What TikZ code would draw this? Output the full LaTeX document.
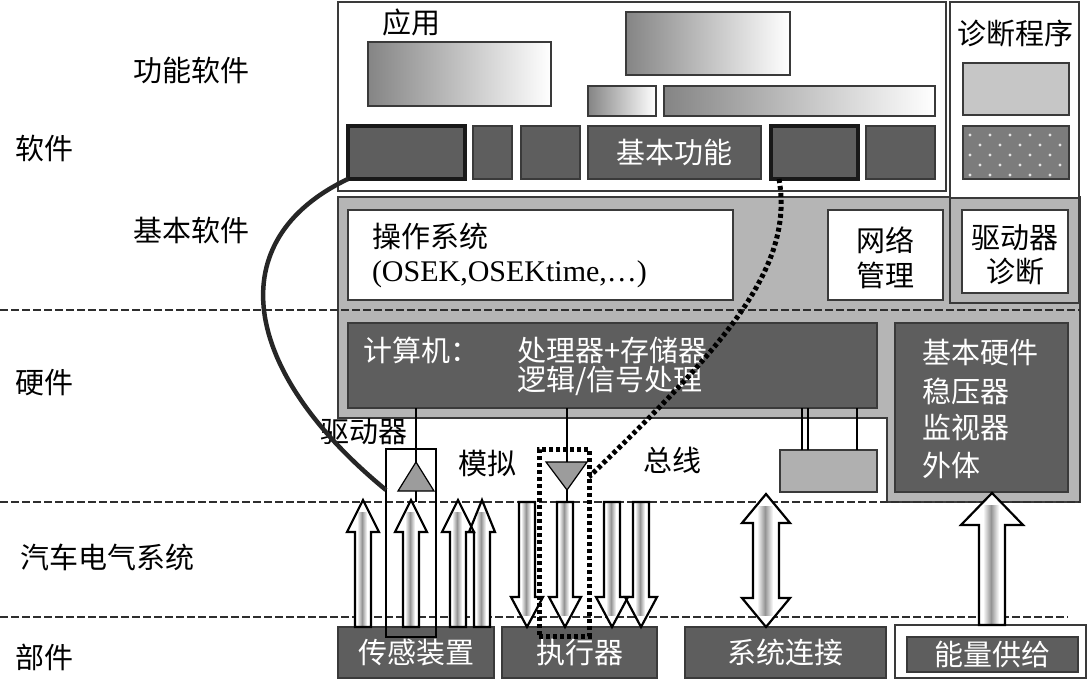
\documentclass[tikz,border=0pt]{standalone}
\usepackage{fontspec}
\setmainfont{Liberation Serif}
\newfontfamily\cjk{Noto Sans CJK SC}
\definecolor{dk}{HTML}{5E5E5E}
\definecolor{fg}{HTML}{B5B5B5}
\definecolor{bd}{HTML}{3A3A3A}
\definecolor{sbc}{HTML}{B0B0B0}
\definecolor{tri}{HTML}{9C9C9C}
\definecolor{kk}{HTML}{C6C6C6}
\definecolor{ll}{HTML}{7C7C7C}
\newcommand\UpArr[7]{\path[#7] ({#1-#4},#3) -- ({#1-#4},{#2+#6}) -- ({#1-#5},{#2+#6}) -- (#1,#2) -- ({#1+#5},{#2+#6}) -- ({#1+#4},{#2+#6}) -- ({#1+#4},#3) -- cycle;}
\newcommand\DnArr[7]{\path[#7] ({#1-#4},#2) -- ({#1-#4},{#3-#6}) -- ({#1-#5},{#3-#6}) -- (#1,#3) -- ({#1+#5},{#3-#6}) -- ({#1+#4},{#3-#6}) -- ({#1+#4},#2) -- cycle;}
\newcommand\DblArr[7]{\path[#7] (#1,#2) -- ({#1+#5},{#2+#6}) -- ({#1+#4},{#2+#6}) -- ({#1+#4},{#3-#6}) -- ({#1+#5},{#3-#6}) -- (#1,#3) -- ({#1-#5},{#3-#6}) -- ({#1-#4},{#3-#6}) -- ({#1-#4},{#2+#6}) -- ({#1-#5},{#2+#6}) -- cycle;}
\newcommand\Stripe[4]{\path[left color=white,right color=white,middle color=black!42] ({#1-#4},#2) rectangle ({#1+#4-2},#3);}
\newcommand\AllArrows[1]{%
\UpArr{363}{500}{627}{8}{16}{32}{#1}
\UpArr{411}{500}{627}{8}{16}{32}{#1}
\UpArr{458}{500}{627}{8}{16}{32}{#1}
\UpArr{482}{500}{627}{8}{13}{32}{#1}
\DnArr{527}{502}{627}{8}{16}{30}{#1}
\DnArr{565}{502}{627}{8}{16}{30}{#1}
\DnArr{612}{502}{627}{8}{16}{30}{#1}
\DnArr{641}{502}{627}{8}{16}{30}{#1}
\DblArr{766}{494}{627}{13}{24}{29}{#1}
\UpArr{992}{493}{625}{13}{31}{32}{#1}}
\newcommand\AllStripes{%
\Stripe{363}{512}{627}{6}
\Stripe{411}{512}{627}{6}
\Stripe{458}{512}{627}{6}
\Stripe{482}{512}{627}{6}
\Stripe{527}{502}{615}{6}
\Stripe{565}{502}{615}{6}
\Stripe{612}{502}{615}{6}
\Stripe{641}{502}{615}{6}
\Stripe{766}{506}{615}{9}
\Stripe{992}{505}{625}{9}}
\begin{document}
\begin{tikzpicture}[x=1pt,y=-1pt,
  every node/.style={inner sep=0pt,outer sep=0pt},
  lbl/.style={font=\cjk\fontsize{29}{34}\selectfont},
  wlbl/.style={lbl,text=white},
  bx/.style={draw=bd,line width=1.4pt,anchor=north west},
  dbox/.style={bx,fill=dk},
  wbox/.style={bx,fill=white},
  gbox/.style={bx,left color=black!48,right color=white},
  hbox/.style={dbox,draw=black!90,line width=3.2pt},
  dl/.style={draw=bd!80!black,line width=2.4pt,dash pattern=on 8pt off 3pt},
  dotl/.style={draw=black,line width=5pt,dash pattern=on 4pt off 3pt},
  arrline/.style={draw=black,line width=2.2pt,line join=miter},
  thin/.style={draw=black,line width=1.4pt}]
\useasboundingbox (0,0) rectangle (1089,680);

% grey L-shaped region (basic software + hardware)
\path[fill=fg,draw=bd,line width=1.4pt] (338,197) -- (1080,197) -- (1080,502) -- (887,502) -- (887,418) -- (338,418) -- cycle;

% function software
\node[wbox,minimum width=608pt,minimum height=189pt] (fs) at (338,2) {};
\node[wbox,minimum width=129pt,minimum height=196pt] (dg) at (950,2) {};
\node[bx,minimum width=129pt,minimum height=105pt] (dgl) at (950,198) {};
\node[lbl] (app) at (411,22) {应用};
\node[gbox,minimum width=183pt,minimum height=64pt] (ga) at (368,42) {};
\node[gbox,minimum width=164pt,minimum height=63pt] (gb) at (626,12) {};
\node[gbox,minimum width=68pt,minimum height=30pt] (gc) at (588,86) {};
\node[gbox,minimum width=271pt,minimum height=30pt] (gd) at (664,86) {};
\node[hbox,minimum width=117pt,minimum height=53pt] (E) at (348,126) {};
\node[dbox,minimum width=39pt,minimum height=53pt] (F) at (473,126) {};
\node[dbox,minimum width=59pt,minimum height=53pt] (G) at (521,126) {};
\node[dbox,minimum width=173pt,minimum height=53pt] (H) at (588,126) {};
\node[wlbl] (Ht) at (H.center) {基本功能};
\node[hbox,minimum width=87pt,minimum height=53pt] (I) at (771,126) {};
\node[dbox,minimum width=69pt,minimum height=53pt] (J) at (866,126) {};
\node[lbl] (dgt) at (1015,33) {诊断程序};
\node[bx,fill=kk,minimum width=106pt,minimum height=52pt] (K) at (963,63) {};
\node[bx,fill=ll,minimum width=106pt,minimum height=53pt] (L) at (963,126) {};
\foreach \j in {0,...,4} \foreach \i in {0,...,4} {
  \fill[white!80!ll] ({970+20*\i+10*mod(\j,2)},{135+10*\j}) circle (1.6pt);}

% basic software
\node[wbox,minimum width=385pt,minimum height=90pt] (os) at (348,210) {};
\node[lbl,anchor=west] (ost1) at (372,236) {操作系统};
\node[anchor=west,font=\fontsize{30}{34}\selectfont] (ost2) at (372,274) {(OSEK,OSEKtime,…)};
\node[wbox,minimum width=115pt,minimum height=90pt] (nm) at (828,210) {};
\node[lbl] (nm1) at (885,240) {网络};
\node[lbl] (nm2) at (885,275) {管理};
\node[wbox,minimum width=106pt,minimum height=83pt] (dd) at (962,210) {};
\node[lbl] (dd1) at (1015,238) {驱动器};
\node[lbl] (dd2) at (1015,272) {诊断};

% hardware
\node[dbox,minimum width=529pt,minimum height=85pt] (cp) at (348,323) {};
\node[wlbl,anchor=west] (cp1) at (363,350) {计算机：};
\node[wlbl,anchor=west] (cp2) at (517,350) {处理器+存储器};
\node[wlbl,anchor=west] (cp3) at (517,381) {逻辑/信号处理};
\node[dbox,minimum width=173pt,minimum height=169pt] (bh) at (895,323) {};
\node[wlbl,anchor=west] (bh1) at (922,353) {基本硬件};
\node[wlbl,anchor=west] (bh2) at (922,391) {稳压器};
\node[wlbl,anchor=west] (bh3) at (922,428) {监视器};
\node[wlbl,anchor=west] (bh4) at (922,465) {外体};
\node[bx,fill=sbc,minimum width=97pt,minimum height=42pt] (sb) at (780,450) {};
\draw[thin] ([xshift=22pt]sb.north west) -- ([xshift=22pt]sb.north west |- cp.south);
\draw[thin] ([xshift=28pt]sb.north west) -- ([xshift=28pt]sb.north west |- cp.south);
\draw[thin] ([xshift=77pt]sb.north west) -- ([xshift=77pt]sb.north west |- cp.south);

% dashed layer lines
\draw[dl] (0,310) -- (1080,310);
\draw[dl] (0,502) -- (1080,502);
\draw[dl] (0,617) -- (1068,617);

% left labels
\node[lbl] (l1) at (191,70) {功能软件};
\node[lbl] (l2) at (45,148) {软件};
\node[lbl] (l3) at (191,230) {基本软件};
\node[lbl] (l4) at (45,383) {硬件};
\node[lbl] (l5) at (107,557) {汽车电气系统};
\node[lbl] (l6) at (45,657) {部件};

% components
\node[dbox,minimum width=156pt,minimum height=51pt] (sens) at (338,627) {};
\node[wlbl] (senst) at (sens.center) {传感装置};
\node[dbox,minimum width=155pt,minimum height=51pt] (act) at (502,627) {};
\node[wlbl] (actt) at (act.center) {执行器};
\node[dbox,minimum width=201pt,minimum height=51pt] (sys) at (685,627) {};
\node[wlbl] (syst) at (sys.center) {系统连接};
\node[wbox,minimum width=191pt,minimum height=53pt] (pwo) at (895,625) {};
\node[dbox,minimum width=171pt,minimum height=35pt] (pwi) at (907,637) {};
\node[wlbl] (pwt) at (pwi.center) {能量供给};

% block arrows
\AllArrows{fill=white}
\AllStripes
\AllArrows{arrline}

% driver (analog)
\node[bx,draw=black,line width=2pt,minimum width=50pt,minimum height=188pt] (drv) at (386,449) {};
\coordinate (t1) at (416,462);
\draw[thin] (cp.south -| t1) -- (t1);
\path[fill=tri,draw=black,line width=1.2pt] (t1) -- (398,491) -- (434,491) -- cycle;
\draw[thin] (416,491) -- (416,502);
\node[lbl] (drvl) at (364,432) {驱动器};
\node[lbl] (ana) at (487,463) {模拟};

% bus
\node[bx,dotl,minimum width=50pt,minimum height=187pt] (bus) at (539,449) {};
\coordinate (t2) at (567,490);
\draw[thin] (cp.south -| t2) -- (567,462);
\path[fill=tri,draw=black,line width=1.2pt] (546,462) -- (587,462) -- (t2) -- cycle;
\draw[thin] (t2) -- (567,502);
\node[lbl] (busl) at (672,460) {总线};

% connection curves
\draw[line width=4.5pt,black!85] (E.south west) .. controls (220,240) and (240,370) .. ([yshift=-41pt]drv.north west);
\draw[dotl] ([xshift=8pt]I.south west) .. controls (795,270) and (720,350) .. ([yshift=-28pt]bus.north east);
\end{tikzpicture}
\end{document}
